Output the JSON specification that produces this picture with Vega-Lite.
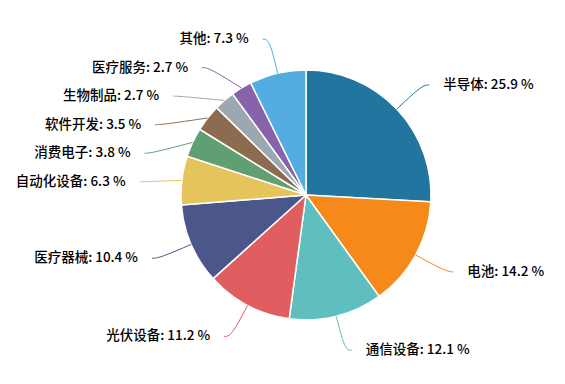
{
  "$schema": "https://vega.github.io/schema/vega-lite/v6.json",
  "width": 565,
  "height": 384,
  "padding": 0,
  "autosize": {"type": "none"},
  "background": "white",
  "config": {"view": {"stroke": null}},
  "data": {
    "values": [
      {"cat": "半导体", "value": 25.9, "order": 1},
      {"cat": "电池", "value": 14.2, "order": 2},
      {"cat": "通信设备", "value": 12.1, "order": 3},
      {"cat": "光伏设备", "value": 11.2, "order": 4},
      {"cat": "医疗器械", "value": 10.4, "order": 5},
      {"cat": "自动化设备", "value": 6.3, "order": 6},
      {"cat": "消费电子", "value": 3.8, "order": 7},
      {"cat": "软件开发", "value": 3.5, "order": 8},
      {"cat": "生物制品", "value": 2.7, "order": 9},
      {"cat": "医疗服务", "value": 2.7, "order": 10},
      {"cat": "其他", "value": 7.3, "order": 11}
    ]
  },
  "transform": [
    {"joinaggregate": [{"op": "sum", "field": "value", "as": "total"}]},
    {"stack": "value", "groupby": [], "sort": [{"field": "order"}], "as": ["s0", "s1"]},
    {"calculate": "datum.s0/datum.total", "as": "f0"},
    {"calculate": "datum.s1/datum.total", "as": "f1"},
    {"calculate": "PI*(datum.f0+datum.f1)", "as": "ang"},
    {"calculate": "sin(datum.ang) >= 0 ? 'R' : 'L'", "as": "side"},
    {"calculate": "160*cos(datum.ang)", "as": "ynat"},
    {"window": [{"op": "row_number", "as": "rn"}], "groupby": ["side"], "sort": [{"field": "ynat", "order": "descending"}]},
    {"calculate": "datum.ynat + datum.rn*28.5", "as": "z"},
    {"window": [{"op": "min", "field": "z", "as": "wz"}], "groupby": ["side"], "sort": [{"field": "ynat", "order": "descending"}], "frame": [null, 0]},
    {"calculate": "datum.wz - datum.rn*28.5", "as": "ly"},
    {"calculate": "(datum.side=='R'?1:-1)*sqrt(max(0,25600-datum.ly*datum.ly))", "as": "lx"},
    {"calculate": "datum.lx + (datum.side=='R'?21:-21)", "as": "tx"},
    {"calculate": "datum.cat + ': ' + format(datum.value,'.1f') + ' %'", "as": "label"}
  ],
  "layer": [
    {
      "mark": {"type": "arc", "outerRadius": 125, "stroke": "white", "strokeWidth": 1.5},
      "encoding": {
        "x": {"datum": 0, "type": "quantitative", "scale": {"domain": [-306, 259], "nice": false, "zero": false}, "axis": null},
        "y": {"datum": 0, "type": "quantitative", "scale": {"domain": [-189, 195], "nice": false, "zero": false}, "axis": null},
        "theta": {"field": "f0", "type": "quantitative", "scale": {"domain": [0, 1], "range": [0, 6.283185307179586]}},
        "theta2": {"field": "f1"},
        "color": {
          "field": "cat", "type": "nominal", "legend": null,
          "scale": {
            "domain": ["半导体", "电池", "通信设备", "光伏设备", "医疗器械", "自动化设备", "消费电子", "软件开发", "生物制品", "医疗服务", "其他"],
            "range": ["#21759f", "#f58a1a", "#5fbfbf", "#e05e5f", "#4b578a", "#e5c55b", "#5f9f72", "#8c6b50", "#9da7b0", "#8663aa", "#53ade0"]
          }
        }
      }
    },
    {
      "transform": [
        {"calculate": "0", "as": "a"},
        {"calculate": "1", "as": "b"},
        {"calculate": "2", "as": "c"},
        {"fold": ["a", "b", "c"], "as": ["pt", "pv"]},
        {"calculate": "datum.pv==0 ? 125*sin(datum.ang) : (datum.pv==1 ? datum.lx : datum.lx + (datum.side=='R'?7:-7))", "as": "px"},
        {"calculate": "datum.pv==0 ? 125*cos(datum.ang) : datum.ly", "as": "py"}
      ],
      "mark": {"type": "line", "interpolate": "basis", "strokeWidth": 1},
      "encoding": {
        "x": {"field": "px", "type": "quantitative", "scale": {"domain": [-306, 259], "nice": false, "zero": false}, "axis": null},
        "y": {"field": "py", "type": "quantitative", "scale": {"domain": [-189, 195], "nice": false, "zero": false}, "axis": null},
        "detail": {"field": "cat"},
        "order": {"field": "pv", "type": "quantitative"},
        "color": {"field": "cat", "type": "nominal", "legend": null}
      }
    },
    {
      "transform": [{"filter": "datum.side=='L'"}],
      "mark": {"type": "text", "align": "right", "baseline": "middle", "font": "Noto Sans CJK SC", "fontSize": 13.5, "fontWeight": 500, "color": "#000"},
      "encoding": {
        "x": {"field": "tx", "type": "quantitative", "scale": {"domain": [-306, 259], "nice": false, "zero": false}, "axis": null},
        "y": {"field": "ly", "type": "quantitative", "scale": {"domain": [-189, 195], "nice": false, "zero": false}, "axis": null},
        "text": {"field": "label"}
      }
    },
    {
      "transform": [{"filter": "datum.side=='R'"}],
      "mark": {"type": "text", "align": "left", "baseline": "middle", "font": "Noto Sans CJK SC", "fontSize": 13.5, "fontWeight": 500, "color": "#000"},
      "encoding": {
        "x": {"field": "tx", "type": "quantitative", "scale": {"domain": [-306, 259], "nice": false, "zero": false}, "axis": null},
        "y": {"field": "ly", "type": "quantitative", "scale": {"domain": [-189, 195], "nice": false, "zero": false}, "axis": null},
        "text": {"field": "label"}
      }
    }
  ]
}
